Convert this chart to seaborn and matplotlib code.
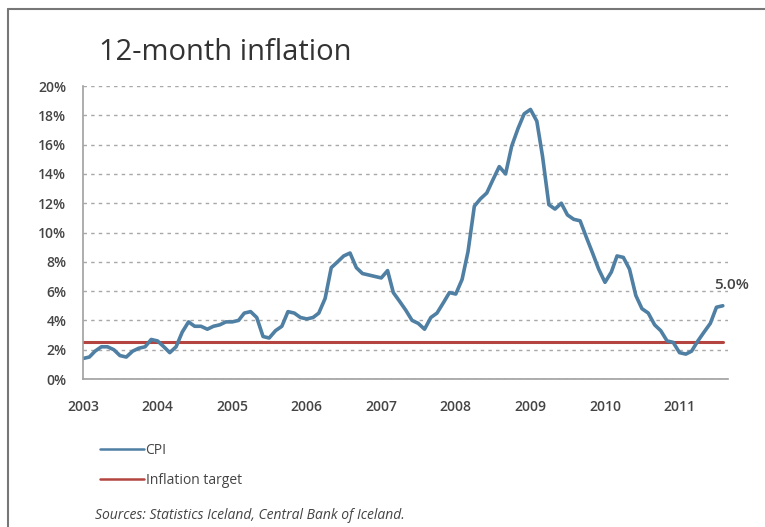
import numpy as np
import pandas as pd
import matplotlib
matplotlib.use("Agg")
from matplotlib import pyplot as plt
import matplotlib.dates as mdates
from matplotlib.lines import Line2D
from matplotlib.ticker import FuncFormatter
import seaborn as sns

# ------------------------------- Data -----------------------------------------------------
start_month = "2003-01-01"
cpi = [
    1.4, 1.5, 1.9, 2.2, 2.2, 2.0, 1.6, 1.5, 1.9, 2.1, 2.2, 2.7,      # 2003
    2.6, 2.2, 1.8, 2.2, 3.2, 3.9, 3.6, 3.6, 3.4, 3.6, 3.7, 3.9,      # 2004
    3.9, 4.0, 4.5, 4.6, 4.2, 2.9, 2.8, 3.3, 3.6, 4.6, 4.5, 4.2,      # 2005
    4.1, 4.2, 4.5, 5.5, 7.6, 8.0, 8.4, 8.6, 7.6, 7.2, 7.1, 7.0,      # 2006
    6.9, 7.4, 5.9, 5.3, 4.7, 4.0, 3.8, 3.4, 4.2, 4.5, 5.2, 5.9,      # 2007
    5.8, 6.8, 8.7, 11.8, 12.3, 12.7, 13.6, 14.5, 14.0, 15.9, 17.1, 18.1,  # 2008
    18.4, 17.6, 15.2, 11.9, 11.6, 12.0, 11.2, 10.9, 10.8, 9.7, 8.6, 7.5,  # 2009
    6.6, 7.3, 8.4, 8.3, 7.5, 5.7, 4.8, 4.5, 3.7, 3.3, 2.6, 2.5,      # 2010
    1.8, 1.7, 1.9, 2.6, 3.2, 3.8, 4.9, 5.0,                          # 2011
]
inflation_target = 2.5
last_label = "5.0%"

series_names = ["CPI", "Inflation target"]
title = "12-month inflation"
source_note = "Sources: Statistics Iceland, Central Bank of Iceland."

# ------------------------------- Build frame --------------------------------
dates = pd.date_range(start_month, periods=len(cpi), freq="MS")
df = pd.DataFrame({"Date": dates, "CPI": cpi})
df["Inflation target"] = inflation_target

cpi_color = "#4f7fa3"
target_color = "#b4443f"
text_color = "#444444"

sns.set_style("white")
plt.rcParams["font.family"] = ["Open Sans", "DejaVu Sans"]

fig = plt.figure(figsize=(7.65, 5.27), dpi=100)
ax = fig.add_axes([0.1085, 0.2808, 0.843, 0.556])

sns.lineplot(data=df, x="Date", y="Inflation target", color=target_color, linewidth=2.2, ax=ax)
sns.lineplot(data=df, x="Date", y="CPI", color=cpi_color, linewidth=2.6, ax=ax)

# Axes limits and ticks
ax.set_ylim(0, 20)
ax.set_yticks(np.arange(0, 21, 2))
ax.yaxis.set_major_formatter(FuncFormatter(lambda v, _: f"{v:.0f}%"))
ax.set_xlim(pd.Timestamp("2003-01-01"), pd.Timestamp("2011-08-26"))
ax.xaxis.set_major_locator(mdates.YearLocator())
ax.xaxis.set_major_formatter(mdates.DateFormatter("%Y"))
ax.set_xlabel("")
ax.set_ylabel("")

ax.grid(axis="y", color="#a8a8a8", linestyle=(0, (2.5, 3)), linewidth=1.0)
ax.grid(axis="x", visible=False)
ax.set_axisbelow(True)

for side in ["top", "right"]:
    ax.spines[side].set_visible(False)
for side in ["left", "bottom"]:
    ax.spines[side].set_color("#a0a0a0")
    ax.spines[side].set_linewidth(1.2)

ax.tick_params(axis="both", direction="out", length=4, width=1, color="#a0a0a0",
               labelsize=10, labelcolor=text_color)
ax.tick_params(axis="x", pad=11)
ax.tick_params(axis="y", pad=8)
for lbl in ax.get_yticklabels() + ax.get_xticklabels():
    lbl.set_fontweight("semibold")

# Label for the latest value
ax.annotate(last_label, xy=(df["Date"].iloc[-1], df["CPI"].iloc[-1]),
            xytext=(6, 10), textcoords="offset points", ha="center", va="bottom",
            fontsize=11, color=text_color, fontweight="semibold")

# Title
fig.text(0.130, 0.900, title, fontsize=21, color="#333333", ha="left", va="center",
         fontweight="medium")

# Legend below the chart
handles = [Line2D([0], [0], color=cpi_color, linewidth=1.8),
           Line2D([0], [0], color=target_color, linewidth=1.8)]
fig.legend(handles, series_names, loc="upper left", bbox_to_anchor=(0.114, 0.184),
           frameon=False, fontsize=10, handlelength=3.2, handletextpad=0.1,
           labelspacing=1.1, labelcolor=text_color)

# Source note
fig.text(0.124, 0.021, source_note, fontsize=10, color=text_color, style="italic",
         ha="left", va="center")

# Frame around the chart (left and top edges visible in the reference)
fig.add_artist(Line2D([0.0105, 0.0105], [0.0, 0.983], color="#777777", linewidth=1.5,
                      transform=fig.transFigure))
fig.add_artist(Line2D([0.0105, 1.0], [0.983, 0.983], color="#777777", linewidth=1.5,
                      transform=fig.transFigure))

fig.savefig("out.png", dpi=100)
